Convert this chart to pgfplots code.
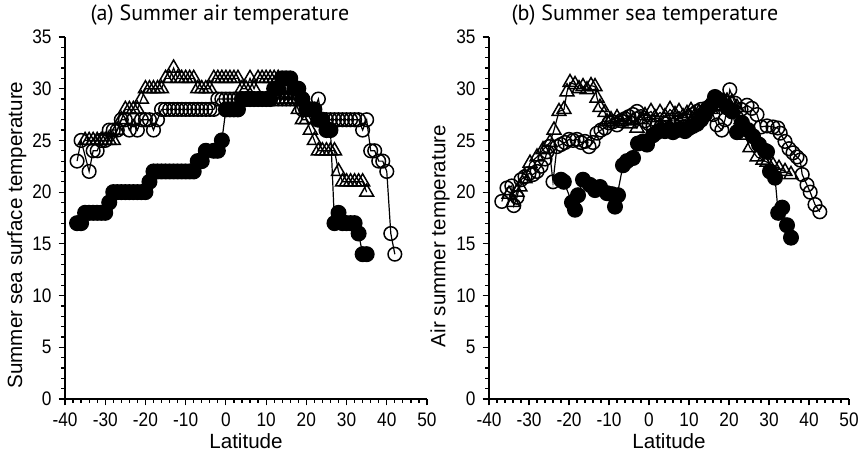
\documentclass[border=0pt]{standalone}
\usepackage{fontspec}
\setmainfont{Liberation Sans}
\newfontfamily\tickfont[FakeStretch=0.88]{Liberation Sans}
\newfontfamily\titlefont{PT Sans}
\usepackage{pgfplots}
\pgfplotsset{compat=1.18}
\tikzset{ttl/.style={font=\titlefont\fontsize{11}{12}\selectfont, anchor=center, inner sep=0pt}}
\pgfplotsset{
 panel/.style={
  scale only axis, height=181pt,
  xmin=-40, xmax=50, ymin=0, ymax=35,
  axis x line*=bottom, axis y line*=left,
  xtick={-40,-30,...,50}, ytick={0,5,...,35},
  minor x tick num=4, minor y tick num=4,
  tick align=outside,
  major tick length=3.2pt, minor tick length=1.8pt,
  every tick/.style={black, line width=0.6pt},
  axis line style={line width=0.7pt, -},
  tick label style={font=\tickfont\fontsize{9.8}{11}\selectfont},
  /pgf/number format/assume math mode=true,
  xlabel={Latitude},
  label style={font=\fontsize{10.3}{12}\selectfont},
  xlabel style={at={(axis description cs:0.5,0)}, anchor=center, yshift=-21pt},
  clip=false,
 },
 fc/.style={black, line width=0.6pt, mark=*, mark size=3.7pt, mark options={solid, fill=black}},
 oc/.style={black, line width=0.6pt, mark=o, mark size=3.4pt, mark options={solid, line width=0.75pt}},
 tr/.style={black, line width=0.6pt, mark=triangle, mark size=4pt, mark options={solid, line width=0.75pt}},
}
\begin{document}
\begin{tikzpicture}
\begin{axis}[panel, width=181pt, at={(32.5pt,29.5pt)}, anchor=south west,
  ylabel={Summer sea surface temperature},
  ylabel style={at={(axis description cs:-0.133,0.453)}, anchor=center}]
\addplot[oc] coordinates {(-37,23)(-36,25)(-34,22)(-33,24)(-32,24)(-31,25)(-30,25)(-29,26)(-28,26)(-27,26)(-26,27)(-25,27)(-24,26)(-23,27)(-22,26)(-21,27)(-20,27)(-19,27)(-18,26)(-17,27)(-16,28)(-15,28)(-14,28)(-13,28)(-12,28)(-11,28)(-10,28)(-9,28)(-8,28)(-7,28)(-6,28)(-5,28)(-4,28)(-3,28)(-2,29)(-1,29)(0,29)(1,29)(2,29)(3,29)(4,29)(5,29)(6,29)(7,29)(8,29)(9,29)(10,29)(11,29)(12,29)(13,29)(14,29)(15,29)(16,29)(17,29)(18,29)(19,28)(20,28)(21,28)(22,28)(23,29)(24,27)(25,27)(26,27)(27,27)(28,27)(29,27)(30,27)(31,27)(32,27)(33,27)(34,26)(35,27)(36,24)(37,24)(38,23)(39,23)(40,22)(41,16)(42,14)};
\addplot[tr] coordinates {(-35,25)(-34,25)(-33,25)(-32,25)(-31,25)(-30,25)(-29,25)(-28,25)(-27,26)(-26,27)(-25,28)(-24,28)(-23,28)(-22,28)(-21,29)(-20,30)(-19,30)(-18,30)(-17,30)(-16,30)(-15,31)(-14,31)(-13,32)(-12,31)(-11,31)(-10,31)(-9,31)(-8,31)(-7,30)(-6,30)(-5,30)(-4,30)(-3,31)(-2,31)(-1,31)(0,31)(1,31)(2,31)(3,31)(4,30)(5,30)(6,31)(7,30)(8,31)(9,31)(10,31)(11,31)(12,31)(13,31)(14,29)(15,29)(16,29)(17,29)(18,28)(19,27)(20,27)(21,26)(22,25)(23,24)(24,24)(25,24)(26,24)(27,24)(28,22)(29,21)(30,21)(31,21)(32,21)(33,21)(34,21)(35,20)};
\addplot[fc] coordinates {(-37,17)(-36,17)(-35,18)(-34,18)(-33,18)(-32,18)(-31,18)(-30,18)(-29,19)(-28,20)(-27,20)(-26,20)(-25,20)(-24,20)(-23,20)(-22,20)(-21,20)(-20,20)(-19,21)(-18,22)(-17,22)(-16,22)(-15,22)(-14,22)(-13,22)(-12,22)(-11,22)(-10,22)(-9,22)(-8,22)(-7,23)(-6,23)(-5,24)(-3,24)(-2,24)(-1,25)(0,28)(1,28)(2,28)(3,28)(4,29)(5,29)(6,29)(7,29)(8,29)(9,29)(10,29)(11,29)(12,30)(13,30)(14,31)(15,31)(16,31)(17,30)(18,30)(19,29)(20,28)(21,28)(22,28)(23,27)(24,27)(25,26)(26,26)(27,17)(28,18)(29,17)(30,17)(31,17)(32,17)(33,16)(34,14)(35,14)};
\node[ttl] at (rel axis cs:0.428,1.061) {(a) Summer air temperature};
\end{axis}
\begin{axis}[panel, width=180pt, at={(244.5pt,29.5pt)}, anchor=south west,
  ylabel={Air summer temperature},
  ylabel style={at={(axis description cs:-0.136,0.45)}, anchor=center}]
\addplot[oc] coordinates {(-36.8,19.1)(-35.5,20.4)(-34.3,20.6)(-33.8,18.7)(-33.0,19.5)(-32.0,21.2)(-31.0,21.5)(-30.0,21.8)(-29.0,21.7)(-28.0,22.0)(-27.0,22.5)(-26.0,23.2)(-25.5,23.9)(-25.0,24.4)(-24.0,21.0)(-23.0,24.4)(-22.0,24.6)(-21.0,24.8)(-20.0,25.1)(-19.0,25.0)(-18.0,25.1)(-17.0,24.8)(-16.0,24.9)(-15.0,24.4)(-14.0,24.8)(-13.0,25.7)(-12.0,26.0)(-11.0,26.2)(-10.0,26.7)(-9.0,26.8)(-8.0,26.5)(-7.0,26.9)(-6.0,27.1)(-5.0,27.3)(-4.0,27.5)(-3.0,27.8)(-2.0,27.3)(-1.0,26.9)(0.0,26.6)(1.0,26.4)(2.0,26.5)(3.0,26.3)(4.0,26.6)(5.0,26.8)(6.0,26.5)(7.0,26.7)(8.0,26.9)(9.0,27.0)(10.0,27.2)(11.0,27.5)(12.0,27.8)(13.0,28.0)(14.0,27.8)(15.0,28.1)(16.0,27.5)(17.0,26.5)(18.2,26.0)(19.0,27.0)(20.2,29.9)(21.5,28.6)(23.0,28.0)(24.5,28.4)(25.7,28.1)(27.0,27.5)(28.0,26.3)(29.5,26.4)(31.0,26.3)(32.2,26.2)(32.8,25.7)(34.0,24.9)(35.0,24.2)(36.0,23.8)(37.0,23.4)(37.8,23.1)(38.3,21.7)(39.5,20.7)(40.3,20.0)(41.5,18.8)(42.7,18.1)};
\addplot[tr] coordinates {(-35.0,19.8)(-34.0,19.0)(-33.0,20.0)(-32.25,20.5)(-31.0,21.3)(-29.75,22.8)(-28.0,23.4)(-26.5,24.1)(-24.75,24.8)(-23.75,26.0)(-22.5,27.8)(-21.25,28.0)(-20.5,29.7)(-19.75,30.6)(-18.5,30.4)(-17.5,30.0)(-16.5,30.2)(-15.5,29.9)(-14.5,30.3)(-13.5,30.2)(-13.0,29.1)(-12.25,28.2)(-11.0,27.7)(-10.5,26.8)(-9.5,27.0)(-8.0,27.2)(-7.0,26.8)(-6.0,27.0)(-5.0,26.6)(-4.0,26.9)(-3.0,26.2)(-2.0,27.0)(-1.0,27.4)(0.5,27.8)(1.5,27.2)(2.75,27.7)(4.0,27.3)(5.25,28.0)(6.5,27.5)(7.5,27.8)(8.5,27.3)(9.5,27.6)(10.5,27.9)(11.5,27.4)(12.5,27.7)(13.5,27.9)(14.5,28.2)(15.5,28.0)(16.5,28.4)(17.5,28.7)(18.5,28.3)(19.5,28.8)(20.75,28.7)(22.0,28.2)(23.0,27.0)(24.0,25.5)(25.25,24.3)(27.0,23.4)(28.5,23.1)(29.5,22.9)(31.0,22.6)(32.5,22.3)(34.0,22.0)(35.5,21.7)};
\addplot[fc] coordinates {(-22.0,21.2)(-21.3,21.0)(-19.25,19.0)(-18.5,18.3)(-17.75,19.7)(-16.5,21.2)(-14.75,20.7)(-13.5,20.2)(-12.25,20.5)(-10.5,19.9)(-9.25,19.8)(-7.75,19.7)(-8.5,18.6)(-6.5,22.6)(-5.5,23.0)(-4.0,23.3)(-2.75,24.7)(-1.5,24.9)(-0.5,24.6)(1.0,25.5)(2.0,25.8)(3.0,26.0)(4.0,25.9)(5.0,26.1)(6.0,25.8)(7.0,26.0)(8.0,26.1)(9.0,25.9)(10.0,26.2)(11.0,26.4)(12.0,26.6)(13.0,27.0)(14.0,27.5)(15.0,28.2)(16.5,29.2)(17.75,28.9)(19.5,28.2)(20.75,27.8)(22.0,25.8)(23.25,26.7)(24.75,26.0)(26.0,25.4)(27.5,24.6)(29.0,24.0)(29.5,23.9)(30.25,22.0)(31.5,21.4)(32.3,18.0)(33.3,18.5)(34.5,16.8)(35.5,15.6)};
\node[ttl] at (rel axis cs:0.433,1.061) {(b) Summer sea temperature};
\end{axis}
\pgfresetboundingbox
\useasboundingbox (0,0) rectangle (431pt,229pt);
\end{tikzpicture}
\end{document}
